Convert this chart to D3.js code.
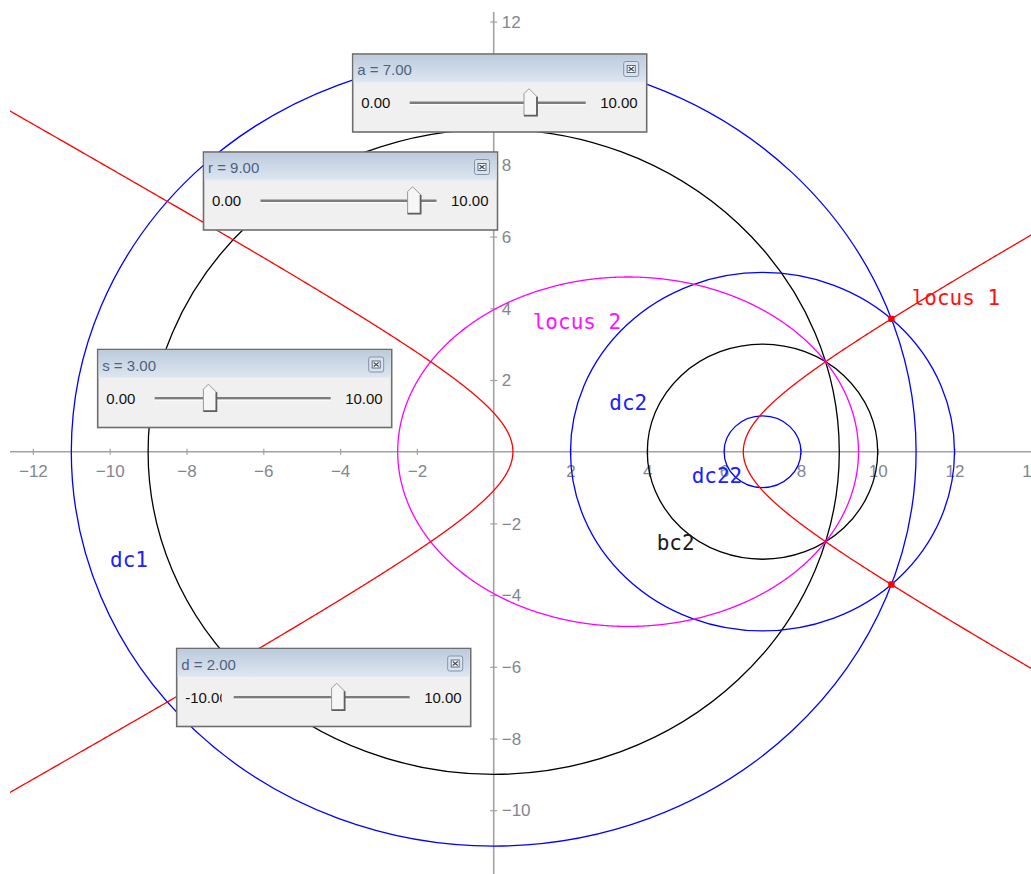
<!DOCTYPE html>
<html>
<head>
<meta charset="utf-8">
<script src="https://cdn.jsdelivr.net/npm/d3@7"></script>
<style>
  html, body { margin: 0; padding: 0; background: #ffffff; }
  svg { display: block; }
</style>
</head>
<body>
<svg id="chart" width="1031" height="874"></svg>
<script>
// ---- construction parameters (slider values) ----
const paramNames  = ["a", "r", "s", "d"];
const paramValues = [7, 9, 3, 2];
const paramMins   = [0, 0, 0, -10];
const paramMaxs   = [10, 10, 10, 10];

// ---- axis ticks ----
const xTicks = [-12, -10, -8, -6, -4, -2, 2, 4, 6, 8, 10, 12, 14];
const yTicks = [-12, -10, -8, -6, -4, -2, 2, 4, 6, 8, 10, 12];

const P = Object.fromEntries(paramNames.map((n, i) => [n, paramValues[i]]));

// ---- circles: centre on the x axis (focus F1 = 0, F2 = a) and radius ----
const circleNames   = ["dc1", "bc1", "dc2", "bc2", "dc22"];
const circleCenters = [0, 0, P.a, P.a, P.a];
const circleRadii   = [P.r + P.d, P.r, P.s + P.d, P.s, P.s - P.d];

// ---- text labels ----
const labelNames = ["locus 1", "locus 2", "dc2", "dc22", "bc2", "dc1"];

// ---- styles / layout ----
const colorOf = {
  "dc1": "#0000ff", "dc2": "#0000ff", "dc22": "#0000ff",
  "bc1": "#000000", "bc2": "#000000",
  "locus 1": "#ff0000", "locus 2": "#ff00ff"
};
const labelColor = {
  "locus 1": "#ff1010", "locus 2": "#ff10ff", "dc2": "#2020ff",
  "dc22": "#2020ff", "bc2": "#1a1a1a", "dc1": "#2020ff"
};
const labelAt = {
  "locus 1": [10.885, 4.09], "locus 2": [1.016, 3.414], "dc2": [3.01, 1.163],
  "dc22": [5.156, -0.865], "bc2": [4.245, -2.742], "dc1": [-9.99, -3.208]
};
const windowAt = { a: [352.7, 54], r: [203.5, 152], s: [97.7, 349.5], d: [176.7, 648.5] };
const WIN_W = 294, WIN_H = 78, TITLE_H = 27;

const W = 1031, H = 874;
const svg = d3.select("#chart");

const x = d3.scaleLinear().domain([-12, 12]).range([32.9, 954.5]);
const y = d3.scaleLinear().domain([-10, 12]).range([810.2, 21.5]);

const defs = svg.append("defs");
defs.append("clipPath").attr("id", "view")
  .append("rect").attr("x", 10).attr("y", 12).attr("width", W - 10).attr("height", H - 12);

const grad = defs.append("linearGradient").attr("id", "titleGrad")
  .attr("x1", 0).attr("y1", 0).attr("x2", 0).attr("y2", 1);
grad.append("stop").attr("offset", "0%").attr("stop-color", "#bccbdd");
grad.append("stop").attr("offset", "100%").attr("stop-color", "#dde6f0");

const view = svg.append("g").attr("clip-path", "url(#view)");

// ---- axes ----
const axisColor = "#a2a2a2";
const tickTextColor = "#7f8792";

view.append("line")
  .attr("x1", 10).attr("x2", W).attr("y1", y(0)).attr("y2", y(0))
  .attr("stroke", axisColor).attr("stroke-width", 1.6);
view.append("line")
  .attr("x1", x(0)).attr("x2", x(0)).attr("y1", 12).attr("y2", H)
  .attr("stroke", axisColor).attr("stroke-width", 1.6);

const xAxis = view.append("g").attr("transform", `translate(0,${y(0)})`)
  .call(d3.axisBottom(x).tickValues(xTicks).tickSize(6).tickFormat(d3.format("d")));
xAxis.select(".domain").remove();
xAxis.selectAll(".tick line").attr("y1", -3).attr("y2", 3)
  .attr("stroke", axisColor).attr("stroke-width", 1.2);
xAxis.selectAll(".tick text").attr("y", 25.5).attr("dy", null)
  .attr("fill", tickTextColor)
  .style("font-family", "'Liberation Sans', Arial, sans-serif").style("font-size", "17px");

const yAxis = view.append("g").attr("transform", `translate(${x(0)},0)`)
  .call(d3.axisRight(y).tickValues(yTicks).tickSize(6).tickFormat(d3.format("d")));
yAxis.select(".domain").remove();
yAxis.selectAll(".tick line").attr("x1", -3.5).attr("x2", 3.5)
  .attr("stroke", axisColor).attr("stroke-width", 1.2);
yAxis.selectAll(".tick text").attr("x", 8).attr("dy", "0.34em")
  .attr("fill", tickTextColor).attr("text-anchor", "start")
  .style("font-family", "'Liberation Sans', Arial, sans-serif").style("font-size", "17px");

// ---- circles ----
const circles = circleNames.map((n, i) => ({ name: n, cx: circleCenters[i], r: circleRadii[i] }));
view.append("g").selectAll("ellipse").data(circles).join("ellipse")
  .attr("cx", d => x(d.cx)).attr("cy", y(0))
  .attr("rx", d => x(d.cx + d.r) - x(d.cx))
  .attr("ry", d => y(0) - y(d.r))
  .attr("fill", "none")
  .attr("stroke", d => colorOf[d.name])
  .attr("stroke-width", 1.3);

// ---- loci: conics with foci (0,0) and (a,0) ----
const c = P.a / 2;
const hA = (P.r - P.s) / 2, hB = Math.sqrt(c * c - hA * hA);   // |PF1 - PF2| = r - s
const eA = (P.r + P.s) / 2, eB = Math.sqrt(eA * eA - c * c);   // PF1 + PF2 = r + s

const tH = d3.range(-3.2, 3.2001, 0.004);
const rightBranch = tH.map(t => [c + hA * Math.cosh(t), hB * Math.sinh(t)]);
const leftBranch  = tH.map(t => [c - hA * Math.cosh(t), hB * Math.sinh(t)]);
const ellipsePts  = d3.range(0, 2 * Math.PI + 0.002, 0.004).map(t => [c + eA * Math.cos(t), eB * Math.sin(t)]);

const line = d3.line().x(d => x(d[0])).y(d => y(d[1]));
const lociG = view.append("g").attr("fill", "none").attr("stroke-width", 1.3);
lociG.append("path").attr("d", line(ellipsePts)).attr("stroke", colorOf["locus 2"]);
lociG.append("path").attr("d", line(leftBranch)).attr("stroke", colorOf["locus 1"]);
lociG.append("path").attr("d", line(rightBranch)).attr("stroke", colorOf["locus 1"]);

// ---- intersection points of dc1 and dc2 ----
const R1 = circleRadii[0], R2 = circleRadii[2];
const ix = (R1 * R1 - R2 * R2 + P.a * P.a) / (2 * P.a);
const iy = Math.sqrt(R1 * R1 - ix * ix);
const points = [[ix, iy], [ix, -iy]];
view.append("g").selectAll("rect").data(points).join("rect")
  .attr("x", d => x(d[0]) - 3.2).attr("y", d => y(d[1]) - 3.2)
  .attr("width", 6.4).attr("height", 6.4).attr("rx", 1.5)
  .attr("fill", "#ff0000");

// ---- labels ----
view.append("g").selectAll("text").data(labelNames).join("text")
  .attr("x", d => x(labelAt[d][0])).attr("y", d => y(labelAt[d][1]))
  .attr("fill", d => labelColor[d])
  .style("font-family", "'DejaVu Sans Mono', monospace").style("font-size", "21px")
  .text(d => d);

// ---- slider windows ----
const uiFont = "'Liberation Sans', Arial, sans-serif";
const TRACK_X0 = 57, TRACK_LEN = 176, TRACK_Y = 48.7;

paramNames.forEach((name, i) => {
  const [wx, wy] = windowAt[name];
  const g = svg.append("g").attr("transform", `translate(${wx},${wy})`);

  g.append("rect").attr("width", WIN_W).attr("height", WIN_H)
    .attr("fill", "#f0f0f0").attr("stroke", "#6e6e6e").attr("stroke-width", 1.6);
  g.append("rect").attr("x", 1).attr("y", 1).attr("width", WIN_W - 2).attr("height", TITLE_H)
    .attr("fill", "url(#titleGrad)");
  g.append("line").attr("x1", 1).attr("x2", WIN_W - 1).attr("y1", TITLE_H + 1).attr("y2", TITLE_H + 1)
    .attr("stroke", "#e4eaf1").attr("stroke-width", 1);

  g.append("text").attr("x", 4.5).attr("y", 21)
    .attr("fill", "#4f6281")
    .style("font-family", uiFont).style("font-size", "15px")
    .text(`${name} = ${d3.format(".2f")(paramValues[i])}`);

  // close button
  const cb = g.append("g").attr("transform", `translate(${WIN_W - 23},7.5)`);
  cb.append("rect").attr("width", 15).attr("height", 15).attr("rx", 2)
    .attr("fill", "#d8e1ec").attr("stroke", "#8593a7").attr("stroke-width", 1);
  cb.append("rect").attr("x", 3.5).attr("y", 4).attr("width", 8).attr("height", 7)
    .attr("fill", "#ffffff").attr("stroke", "#5d6b80").attr("stroke-width", 1);
  cb.append("path").attr("d", "M5,5.5 L10,9.5 M10,5.5 L5,9.5")
    .attr("stroke", "#3f4a5a").attr("stroke-width", 1.2);

  // min / max labels
  const clipId = `minclip-${name}`;
  defs.append("clipPath").attr("id", clipId)
    .append("rect").attr("x", wx).attr("y", wy + 30).attr("width", 45).attr("height", 40);
  svg.append("text").attr("x", wx + 8.5).attr("y", wy + TRACK_Y + 5.3)
    .attr("clip-path", `url(#${clipId})`)
    .attr("fill", "#111")
    .style("font-family", uiFont).style("font-size", "15px")
    .text(d3.format(".2f")(paramMins[i]).replace("−", "-"));
  g.append("text").attr("x", WIN_W - 9).attr("y", TRACK_Y + 5.3)
    .attr("text-anchor", "end").attr("fill", "#111")
    .style("font-family", uiFont).style("font-size", "15px")
    .text(d3.format(".2f")(paramMaxs[i]));

  // track
  g.append("line").attr("x1", TRACK_X0).attr("x2", TRACK_X0 + TRACK_LEN)
    .attr("y1", TRACK_Y).attr("y2", TRACK_Y)
    .attr("stroke", "#7c7c7c").attr("stroke-width", 2.6);
  g.append("line").attr("x1", TRACK_X0).attr("x2", TRACK_X0 + TRACK_LEN)
    .attr("y1", TRACK_Y + 2).attr("y2", TRACK_Y + 2)
    .attr("stroke", "#ffffff").attr("stroke-width", 1);

  // thumb
  const sx = d3.scaleLinear().domain([paramMins[i], paramMaxs[i]])
    .range([TRACK_X0 + 6, TRACK_X0 + TRACK_LEN - 6]);
  const cx = sx(paramValues[i]);
  const ty = TRACK_Y;
  const thumb = g.append("g").attr("transform", `translate(${cx},${ty})`);
  thumb.append("path")
    .attr("d", "M-6.5,13 L-6.5,-9 L-1.5,-14 L6.5,-6 L6.5,13 Z")
    .attr("fill", "#f6f6f6").attr("stroke", "#9a9a9a").attr("stroke-width", 1);
  thumb.append("path")
    .attr("d", "M6.5,-6 L6.5,13 L-6.5,13")
    .attr("fill", "none").attr("stroke", "#5f5f5f").attr("stroke-width", 1.8);
});
</script>
</body>
</html>
